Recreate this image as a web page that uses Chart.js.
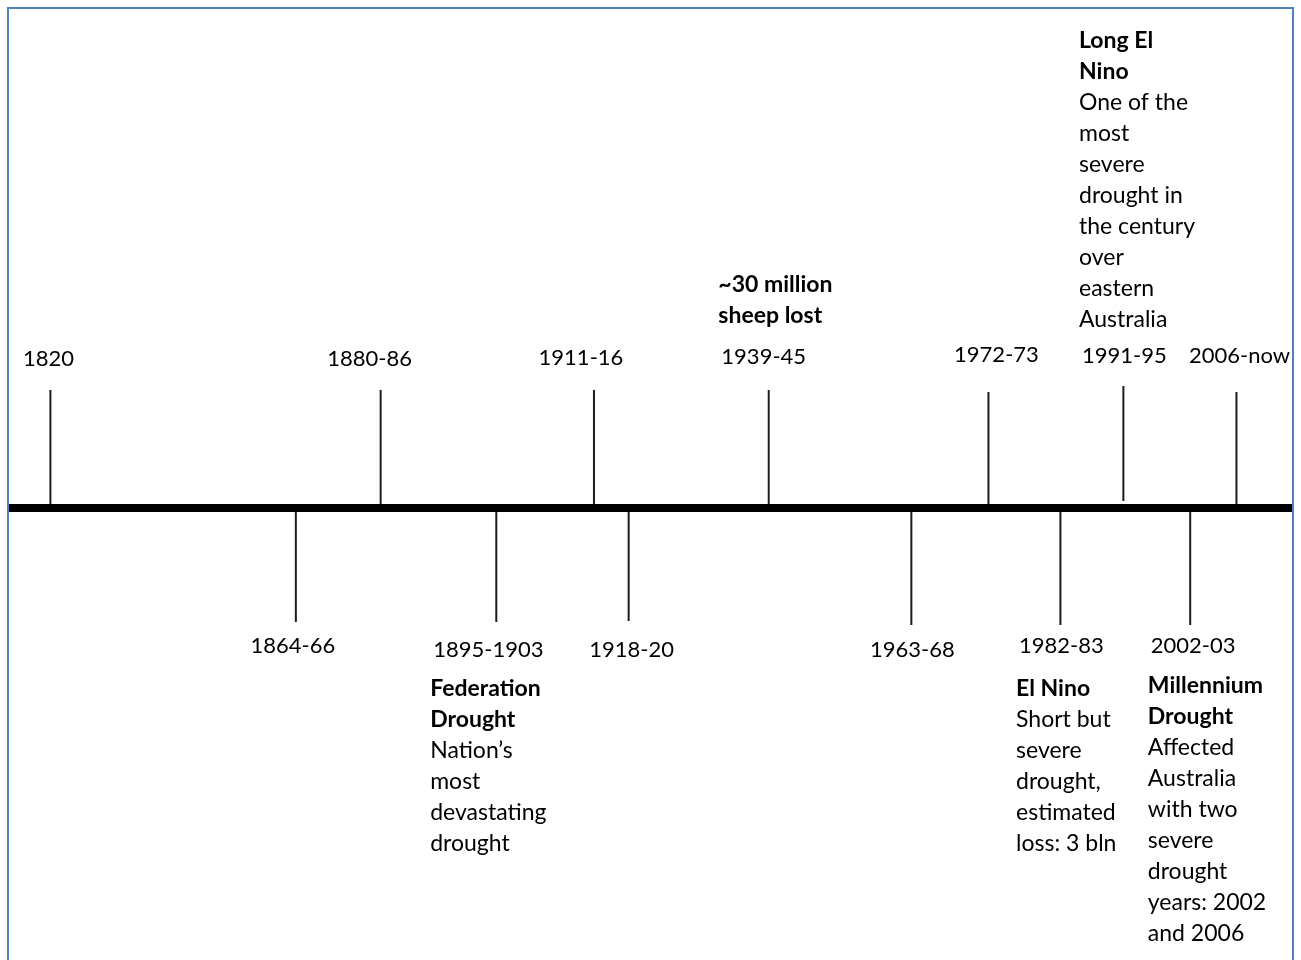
<!DOCTYPE html>
<html>
<head>
<meta charset="utf-8">
<title>Australian droughts timeline</title>
<script src="https://cdn.jsdelivr.net/npm/chart.js@4/dist/chart.umd.min.js"></script>
<style>
    html, body { margin: 0; padding: 0; background: #fff; overflow: hidden; }
    #wrap { position: absolute; left: 0; top: 0; width: 1301px; height: 960px; }
    #frame { position: absolute; left: 7px; top: 7px; width: 1283px; height: 1000px;
             border: 2px solid #4f81bd; pointer-events: none; z-index: 2; }
</style>
</head>
<body>
<div id="wrap"><canvas id="timeline"></canvas></div>
<div id="frame"></div>
<script>
// drought periods, in the order they sit along the line
const periods = ['1820', '1864-66', '1880-86', '1895-1903', '1911-16', '1918-20', '1939-45',
                 '1963-68', '1972-73', '1982-83', '1991-95', '2002-03', '2006-now'];
// where each marker sits along the drawn line (% of its length)
const markerPos = [3.3, 22.4, 29.0, 38.0, 45.6, 48.3, 59.2, 70.3, 76.3, 81.9, 86.8, 92.0, 95.6];
// marker start and end (positive = above the line, negative = below)
const markerFrom = [0, 0, 0, 0, 0, 0, 0, 0, 0, 0, 7, 0, 0];
const markerTo = [118, -114, 118, -114, 118, -113, 118, -117, 116, -117, 122, -117, 116];

// notes attached to some periods
const noteHeads = {
    '1895-1903': ['Federation', 'Drought'],
    '1939-45': ['~30 million', 'sheep lost'],
    '1982-83': ['El Nino'],
    '1991-95': ['Long El', 'Nino'],
    '2002-03': ['Millennium', 'Drought']
};
const noteBodies = {
    '1895-1903': ['Nation\u2019s', 'most', 'devastating', 'drought'],
    '1939-45': [],
    '1982-83': ['Short but', 'severe', 'drought,', 'estimated', 'loss: 3 bln'],
    '1991-95': ['One of the', 'most', 'severe', 'drought in', 'the century', 'over', 'eastern', 'Australia'],
    '2002-03': ['Affected', 'Australia', 'with two', 'severe', 'drought', 'years: 2002', 'and 2006']
};

// small nudges [dx, dy] of the period labels, as in the drawing
const labelNudge = [[-2, 0], [-3, 0], [-11, 0], [-8, 4], [-13, -1], [3, 4], [-5, -2],
                    [1, 4], [8, -4], [1, 0], [1, -3], [3, 0], [3, -3]];
// vertical nudges of the note blocks
const noteNudge = { '1895-1903': 0, '1939-45': -2, '1982-83': 4, '1991-95': 3, '2002-03': 1 };

const FONT = 'Lato, "Open Sans", sans-serif';
const LINE_H = 31;

// one segment per marker, separated by gaps
const markerData = [];
periods.forEach((p, i) => {
    markerData.push({ x: markerPos[i], y: markerFrom[i] });
    markerData.push({ x: markerPos[i], y: markerTo[i] });
    markerData.push({ x: markerPos[i], y: null });
});

const labelsPlugin = {
    id: 'timelineLabels',
    afterDatasetsDraw(chart) {
        const ctx = chart.ctx;
        const xs = chart.scales.x, ys = chart.scales.y;
        const axisY = ys.getPixelForValue(0);
        ctx.save();
        ctx.fillStyle = '#000';
        ctx.textBaseline = 'alphabetic';
        periods.forEach((p, i) => {
            const up = markerTo[i] > 0;
            const cx = xs.getPixelForValue(markerPos[i]) + labelNudge[i][0];
            const base = (up ? axisY - 142 : axisY + 145) + labelNudge[i][1];
            ctx.font = '22px ' + FONT;
            ctx.textAlign = 'center';
            ctx.fillText(p, cx, base);
            if (!noteHeads[p]) return;
            const left = cx - ctx.measureText(p).width / 2 - 3;
            const lines = noteHeads[p].map(t => [t, true]).concat(noteBodies[p].map(t => [t, false]));
            ctx.textAlign = 'left';
            lines.forEach((ln, k) => {
                ctx.font = (ln[1] ? 'bold ' : '') + '23px ' + FONT;
                let y = up ? base - 39 - (lines.length - 1 - k) * LINE_H : base + 39 + k * LINE_H;
                y += noteNudge[p];
                ctx.fillText(ln[0], left, y);
            });
        });
        ctx.restore();
    }
};

new Chart(document.getElementById('timeline'), {
    type: 'scatter',
    data: {
        datasets: [{
            // the main time line
            data: [{ x: 0, y: 0 }, { x: 100, y: 0 }],
            showLine: true,
            borderColor: '#000',
            borderWidth: 8,
            borderCapStyle: 'butt',
            pointRadius: 0,
            order: 0
        }, {
            data: markerData,
            showLine: true,
            spanGaps: false,
            borderColor: '#1e1e1e',
            borderWidth: 2,
            borderCapStyle: 'butt',
            pointRadius: 0,
            order: 1
        }]
    },
    options: {
        responsive: true,
        maintainAspectRatio: false,
        animation: false,
        events: [],
        layout: { padding: { left: 8, right: 8, top: 0, bottom: 0 } },
        scales: {
            x: { type: 'linear', min: 0, max: 100, display: false },
            y: { type: 'linear', min: -452, max: 508, display: false }
        },
        plugins: { legend: { display: false }, tooltip: { enabled: false } }
    },
    plugins: [labelsPlugin]
});
</script>
</body>
</html>
